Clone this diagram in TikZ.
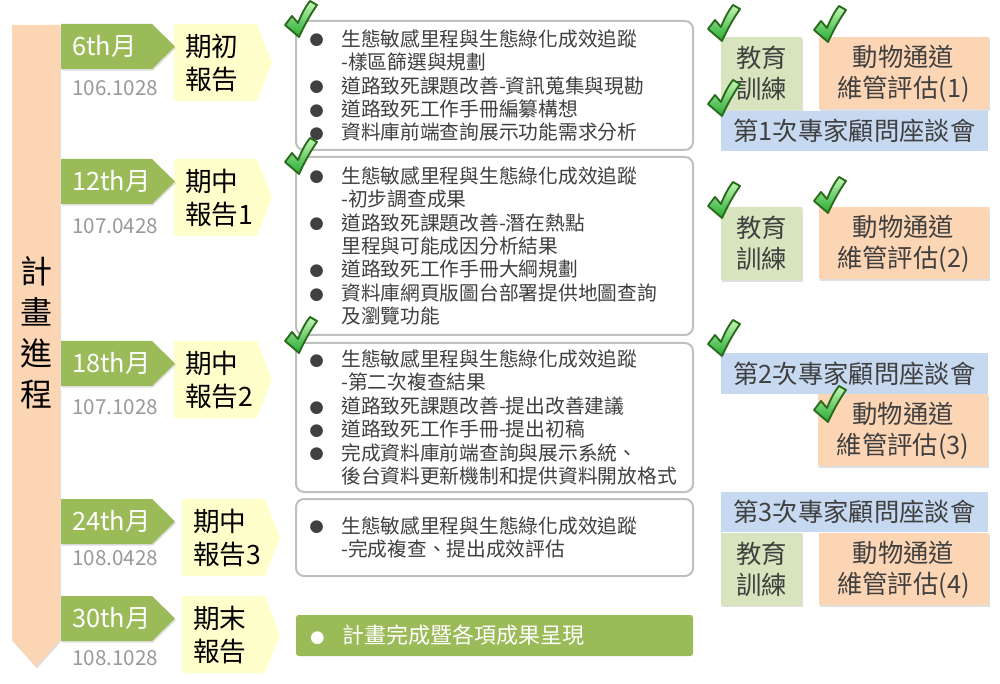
\documentclass[tikz,border=0pt]{standalone}
\usepackage{fontspec}
\setmainfont{Noto Sans CJK TC}
\newfontfamily\bulfont{DejaVu Sans}
\usepackage{tikz}
\usetikzlibrary{positioning, fit, shadows}
\definecolor{monthgreen}{HTML}{9BBB59}
\definecolor{reportyellow}{HTML}{FFFFCC}
\definecolor{peach}{HTML}{FCD5B5}
\definecolor{edugreen}{HTML}{D7E4BD}
\definecolor{advblue}{HTML}{C6D9F1}
\definecolor{boxgray}{HTML}{BFBFBF}
\definecolor{dategray}{HTML}{999999}
\definecolor{txtgray}{HTML}{404040}
\definecolor{okdark}{HTML}{2A6A1C}
\definecolor{oklight}{HTML}{C4F5B6}
\definecolor{okmid}{HTML}{24AC30}

\newcommand{\bul}{\makebox[24pt][l]{\raisebox{1pt}{\bulfont\fontsize{12.5}{12.5}\selectfont ●}}}
\newcommand{\ind}{\hspace*{24pt}}

\begin{document}
\begin{tikzpicture}[
                  x=0.75pt, y=-0.75pt,
                  node distance=0pt and 12pt,
                  softshadow/.style={drop shadow={opacity=.25, shadow xshift=.8pt, shadow yshift=-1.2pt}},
                  progresstxt/.style={font=\fontsize{24}{30.75}\selectfont, align=center, inner sep=0},
                  monthtxt/.style={text=white, font=\fontsize{19}{19}\selectfont, anchor=west, inner sep=0},
                  datetxt/.style={text=dategray, font=\fontsize{15.5}{15.5}\selectfont, anchor=west, inner sep=0},
                  reporttxt/.style={font=\fontsize{20}{24.75}\selectfont, align=left, anchor=west, inner sep=0},
                  cbox/.style={draw=boxgray, line width=1.5pt, rounded corners=6pt, fill=white, inner sep=0},
                  donebox/.style={fill=monthgreen, rounded corners=2pt, inner sep=0},
                  itemtxt/.style={text=txtgray, font=\fontsize{14.8}{17.6}\selectfont, align=left, anchor=west, inner sep=0},
                  rbox/.style={inner sep=0, align=center, text=txtgray, font=\fontsize{19}{23.25}\selectfont},
                  edu/.style={rbox, fill=edugreen, minimum width=60.75pt, minimum height=54.75pt, softshadow},
                  passage/.style={rbox, fill=peach, minimum width=127.5pt, minimum height=54pt, softshadow},
                  advice/.style={rbox, fill=advblue, minimum width=200.25pt, minimum height=30.5pt},
                  okfill/.style={draw=okdark, line width=1.4pt, line join=round, top color=oklight, bottom color=okmid},
                  okmark/.pic={
                        \draw[okfill] (0,24) -- (7,15) -- (13,22) .. controls (17,12) and (21,5) .. (25,0)
                              -- (32,4) .. controls (25,14) and (19,25) .. (14,36) -- cycle;
                  },
            ]
            \useasboundingbox (0,0) rectangle (1000,684);

            % Progress bar
            \fill[peach, softshadow] (12,25) -- (60,25) -- (60,640) -- (36,667) -- (12,640) -- cycle;
            \node[progresstxt] (progress) at (36,333) {計\\畫\\進\\程};

            % Milestones
            \foreach \t/\m/\dy/\d/\r/\rx in {24/6th/88/106.1028/{期初\\報告}/174,
                        159/12th/226/107.0428/{期中\\報告1}/174,
                        341/18th/407/107.1028/{期中\\報告2}/174,
                        499/24th/558/108.0428/{期中\\報告3}/182,
                        596/30th/658/108.1028/{期末\\報告}/182} {
                  \fill[reportyellow] (\rx,\t) -- ({\rx+83},\t) -- ({\rx+98},{\t+38.5}) -- ({\rx+83},{\t+77}) -- (\rx,{\t+77}) -- cycle;
                  \fill[monthgreen, softshadow] (61,\t) -- (152,\t) -- (175,{\t+22.5}) -- (152,{\t+45}) -- (61,{\t+45}) -- cycle;
                  \node[monthtxt] (m\m) at (72,{\t+22.5}) {\m 月};
                  \node[datetxt] (d\m) at (72,\dy) {\d};
                  \node[reporttxt] (r\m) at ({\rx+11},{\t+38.5}) {\r};
            }

            % Work items
            \node[cbox, fit={(296,21) (693,150)}] (box1) {};
            \node[itemtxt] (items1) at ([xshift=10.5pt]box1.west) {\bul 生態敏感里程與生態綠化成效追蹤\\
                  \ind -樣區篩選與規劃\\
                  \bul 道路致死課題改善-資訊蒐集與現勘\\
                  \bul 道路致死工作手冊編纂構想\\
                  \bul 資料庫前端查詢展示功能需求分析};
            \node[cbox, fit={(296,157) (693,335)}] (box2) {};
            \node[itemtxt] (items2) at ([xshift=10.5pt]box2.west) {\bul 生態敏感里程與生態綠化成效追蹤\\
                  \ind -初步調查成果\\
                  \bul 道路致死課題改善-潛在熱點\\
                  \ind 里程與可能成因分析結果\\
                  \bul 道路致死工作手冊大綱規劃\\
                  \bul 資料庫網頁版圖台部署提供地圖查詢\\
                  \ind 及瀏覽功能};
            \node[cbox, fit={(296,343) (693,492)}] (box3) {};
            \node[itemtxt] (items3) at ([xshift=10.5pt]box3.west) {\bul 生態敏感里程與生態綠化成效追蹤\\
                  \ind -第二次複查結果\\
                  \bul 道路致死課題改善-提出改善建議\\
                  \bul 道路致死工作手冊-提出初稿\\
                  \bul 完成資料庫前端查詢與展示系統、\\
                  \ind 後台資料更新機制和提供資料開放格式};
            \node[cbox, fit={(296,499) (693,576)}] (box4) {};
            \node[itemtxt] (items4) at ([xshift=10.5pt]box4.west) {\bul 生態敏感里程與生態綠化成效追蹤\\
                  \ind -完成複查、提出成效評估};
            \node[donebox, fit={(296,615) (693,656)}] (box5) {};
            \node[itemtxt, text=white, font=\fontsize{16.5}{19}\selectfont] (items5) at ([xshift=10.5pt]box5.west) {\bul 計畫完成暨各項成果呈現};

            % Training, passages, advisory meetings
            \node[edu] (edu1) at (761.5,73.5) {教育\\訓練};
            \node[passage, right=of edu1] (pass1) {動物通道\\維管評估(1)};
            \node[advice, below=of edu1.south west, anchor=north west] (adv1) {第1次專家顧問座談會};
            \node[edu] (edu2) at (761.5,243.5) {教育\\訓練};
            \node[passage, right=of edu2] (pass2) {動物通道\\維管評估(2)};
            \node[advice] (adv2) at (854.5,373.5) {第2次專家顧問座談會};
            \node[passage, below=of adv2.south east, anchor=north east] (pass3) {動物通道\\維管評估(3)};
            \node[advice] (adv3) at (854.5,512) {第3次專家顧問座談會};
            \node[edu, below=of adv3.south west, anchor=north west] (edu4) {教育\\訓練};
            \node[passage, right=of edu4] (pass4) {動物通道\\維管評估(4)};

            % Done marks
            \foreach \cx/\cy in {285/1, 285/138, 285/317, 708/5, 814/6, 708/80, 708/182, 814/177, 708/320, 814/386}
                  \pic at (\cx,\cy) {okmark};
      \end{tikzpicture}
\end{document}
